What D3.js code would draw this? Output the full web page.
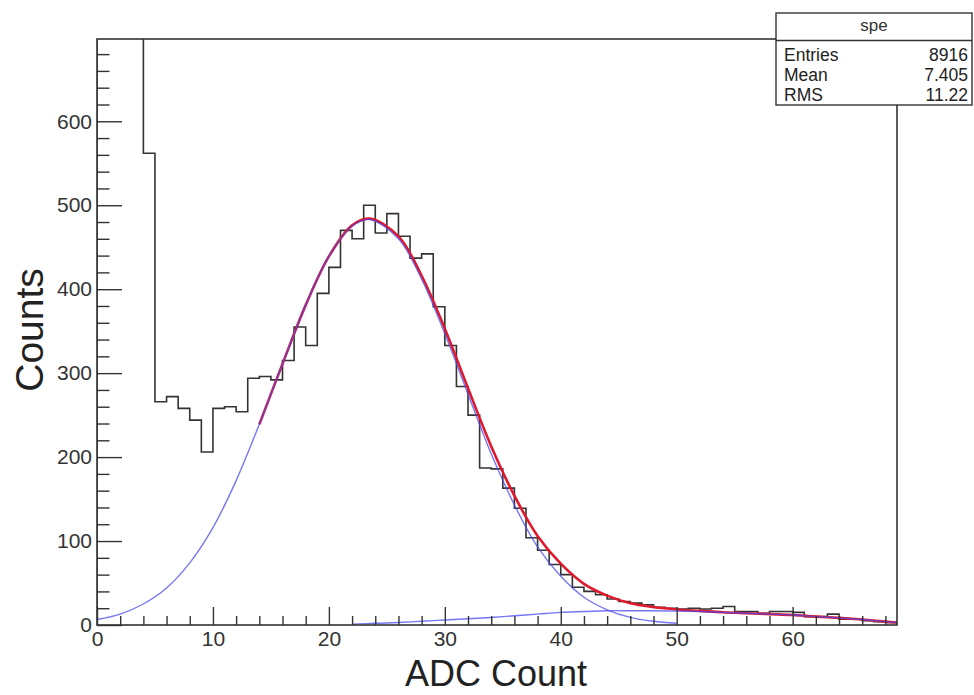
<!DOCTYPE html>
<html>
<head>
<meta charset="utf-8">
<script src="https://cdn.jsdelivr.net/npm/d3@7"></script>
<style>
  body { margin: 0; background: #fff; }
  svg { font-family: "Liberation Sans", Arial, sans-serif; }
</style>
</head>
<body>
<div id="chart"></div>
<script>
'use strict';

// histogram "spe": one bin per ADC count, 0..69 (bins 0-3 run off the top)
const binEdges = [0, 69];
const binCounts = [
  2000, 2400, 1600, 900, 562, 266, 272, 258, 244, 206,
  258, 260, 254, 294, 296, 292, 315, 355, 333, 395,
  426, 470, 460, 500, 467, 490, 463, 437, 442, 379,
  333, 284, 250, 187, 186, 163, 139, 104, 89, 72,
  60, 45, 40, 36, 31, 28, 26, 24, 21, 20,
  19, 20, 19, 20, 22, 16, 16, 14, 16, 16,
  15, 10, 10, 13, 7, 7, 5, 4, 3
];

// total fit (red)
const fitX = [14, 16, 18, 20, 22, 23.5, 26, 28, 30, 32, 34, 36, 38, 40, 42, 44, 46, 48, 50, 52, 54, 56, 58, 60, 62, 64, 66, 68, 69];
const fitY = [239, 311, 381, 439, 476, 484, 463, 416, 353, 282, 213, 154, 106, 73, 49, 35, 26, 21.4, 18.5, 16.8, 15.1, 14, 13, 12, 10, 8.5, 6.5, 4, 3];

// first component (blue, main peak)
const peakX = [0, 2, 4, 6, 8, 10, 12, 14, 16, 18, 20, 22, 23.5, 26, 28, 30, 32, 34, 36, 38, 40, 42, 44, 46, 48, 50];
const peakY = [6.5, 13, 25, 44, 74, 116, 172, 239, 311, 381, 439, 475, 483, 460, 412, 347, 275, 204, 143, 93, 58, 33, 18, 9, 4.4, 2];

// second component (blue, tail)
const tailX = [22, 24, 26, 28, 30, 32, 34, 36, 38, 40, 42, 44, 46, 48, 50, 52, 54, 56, 58, 60, 62, 64, 66, 68, 69];
const tailY = [1, 2, 3, 4.5, 6, 7.5, 9, 11, 13, 15, 16, 17, 17, 17, 16.5, 16, 15, 14, 13, 12, 10, 8.5, 6.5, 4, 3];

const xMajor = [0, 10, 20, 30, 40, 50, 60];
const yMajor = [0, 100, 200, 300, 400, 500, 600];

const statsTitle = 'spe';
const statsRows = [['Entries', '8916'], ['Mean', '7.405'], ['RMS', '11.22']];

const width = 974, height = 695;
const frame = { left: 97, right: 897, top: 39, bottom: 625 };

const svg = d3.select('#chart')
  .append('svg')
  .attr('width', width)
  .attr('height', height);

const x = d3.scaleLinear().domain(binEdges).range([frame.left, frame.right]);
const y = d3.scaleLinear().domain([0, 698]).range([frame.bottom, frame.top]);

svg.append('clipPath').attr('id', 'frameClip')
  .append('rect')
  .attr('x', frame.left).attr('y', frame.top)
  .attr('width', frame.right - frame.left)
  .attr('height', frame.bottom - frame.top);

// histogram outline
const histPts = [[0, 0]];
binCounts.forEach((c, i) => {
  histPts.push([i, c]);
  histPts.push([i + 1, c]);
});
histPts.push([binEdges[1], 0]);

const line = d3.line().x(d => x(d[0])).y(d => y(d[1]));

const plot = svg.append('g').attr('clip-path', 'url(#frameClip)');

plot.append('path')
  .attr('d', line(histPts))
  .attr('fill', 'none')
  .attr('stroke', '#333')
  .attr('stroke-width', 1.6);

const curve = d3.line()
  .x(d => x(d[0]))
  .y(d => y(d[1]))
  .curve(d3.curveCatmullRom);

plot.append('path')
  .attr('d', curve(d3.zip(fitX, fitY)))
  .attr('fill', 'none')
  .attr('stroke', '#e0182c')
  .attr('stroke-width', 2.6);

plot.selectAll('.comp')
  .data([d3.zip(peakX, peakY), d3.zip(tailX, tailY)])
  .enter()
  .append('path')
  .attr('class', 'comp')
  .attr('d', curve)
  .attr('fill', 'none')
  .attr('stroke', '#4a4af0')
  .attr('stroke-opacity', 0.75)
  .attr('stroke-width', 1.4);

// axes, ticks inside the frame as in ROOT
const xMinor = d3.range(0, 69, 2).filter(v => v % 10 !== 0);
const yMinor = d3.range(0, 700, 20).filter(v => v % 100 !== 0);

const gx = svg.append('g').attr('transform', `translate(0,${frame.bottom})`);
gx.call(d3.axisBottom(x).tickValues(xMajor).tickSizeInner(-18).tickSizeOuter(0).tickPadding(6));
gx.append('g').call(d3.axisBottom(x).tickValues(xMinor).tickSizeInner(-9).tickSizeOuter(0).tickFormat(''));

const gy = svg.append('g').attr('transform', `translate(${frame.left},0)`);
gy.call(d3.axisLeft(y).tickValues(yMajor).tickSizeInner(-25).tickSizeOuter(0).tickPadding(5));
gy.append('g').call(d3.axisLeft(y).tickValues(yMinor).tickSizeInner(-12.5).tickSizeOuter(0).tickFormat(''));

svg.selectAll('.domain').remove();
svg.selectAll('.tick line').attr('stroke', '#333').attr('stroke-width', 1.4);
svg.selectAll('.tick text')
  .attr('font-size', 21)
  .attr('font-family', '"Liberation Sans", Arial, sans-serif')
  .attr('fill', '#333');

// frame
svg.append('rect')
  .attr('x', frame.left).attr('y', frame.top)
  .attr('width', frame.right - frame.left)
  .attr('height', frame.bottom - frame.top)
  .attr('fill', 'none')
  .attr('stroke', '#333')
  .attr('stroke-width', 1.6);

// axis titles
svg.append('text')
  .attr('x', 496).attr('y', 686)
  .attr('text-anchor', 'middle')
  .attr('font-size', 36)
  .attr('fill', '#222')
  .text('ADC Count');

svg.append('text')
  .attr('transform', 'translate(43,330) rotate(-90)')
  .attr('text-anchor', 'middle')
  .attr('font-size', 39)
  .attr('fill', '#222')
  .text('Counts');

// stats box
const box = svg.append('g');
box.append('rect')
  .attr('x', 776).attr('y', 13)
  .attr('width', 196).attr('height', 92)
  .attr('fill', '#fff')
  .attr('stroke', '#333')
  .attr('stroke-width', 1.4);
box.append('line')
  .attr('x1', 776).attr('x2', 972)
  .attr('y1', 40.5).attr('y2', 40.5)
  .attr('stroke', '#333')
  .attr('stroke-width', 1.4);
box.append('text')
  .attr('x', 874).attr('y', 31)
  .attr('text-anchor', 'middle')
  .attr('font-size', 17)
  .attr('fill', '#333')
  .text(statsTitle);

const rows = box.selectAll('.row')
  .data(statsRows)
  .enter()
  .append('g')
  .attr('class', 'row')
  .attr('transform', (d, i) => `translate(0,${61 + i * 20})`);
rows.append('text')
  .attr('x', 784)
  .attr('font-size', 17.5)
  .attr('fill', '#222')
  .text(d => d[0]);
rows.append('text')
  .attr('x', 968)
  .attr('text-anchor', 'end')
  .attr('font-size', 17.5)
  .attr('fill', '#222')
  .text(d => d[1]);
</script>
</body>
</html>
